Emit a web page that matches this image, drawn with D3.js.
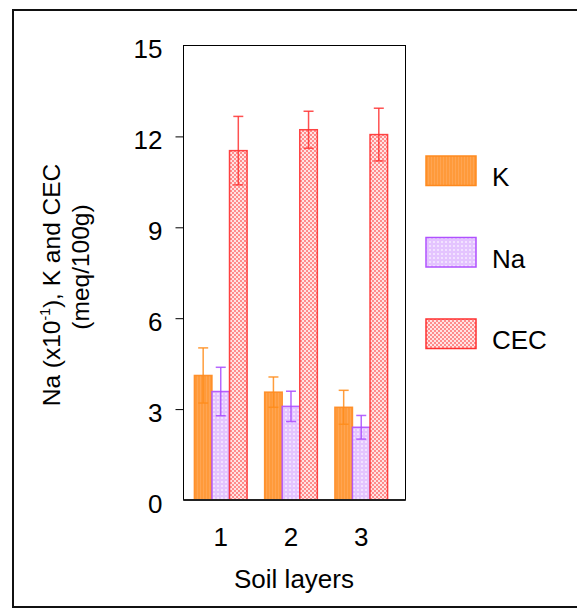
<!DOCTYPE html>
<html>
<head>
<meta charset="utf-8">
<script src="https://cdn.jsdelivr.net/npm/d3@7"></script>
<style>
  html, body { margin: 0; padding: 0; background: #fff; }
  svg { display: block; }
  text { font-family: "Liberation Sans", Arial, sans-serif; fill: #000; }
</style>
</head>
<body>
<svg id="chart" width="577" height="608"></svg>
<script>
// Soil layers and exchangeable cation data
const layers = ["1", "2", "3"];
const seriesNames = ["K", "Na", "CEC"];
const kValues = [4.11, 3.56, 3.06];
const kErrors = [0.91, 0.50, 0.56];
const naValues = [3.58, 3.09, 2.40];
const naErrors = [0.80, 0.50, 0.39];
const cecValues = [11.53, 12.22, 12.06];
const cecErrors = [1.13, 0.61, 0.87];
const yTicks = [0, 3, 6, 9, 12, 15];

const series = [
  { name: seriesNames[0], values: kValues,   errors: kErrors,   fill: "url(#patK)",   stroke: "#ff8a1f", err: "#ff8c1a" },
  { name: seriesNames[1], values: naValues,  errors: naErrors,  fill: "url(#patNa)",  stroke: "#b050ff", err: "#a94cff" },
  { name: seriesNames[2], values: cecValues, errors: cecErrors, fill: "url(#patCEC)", stroke: "#ff3030", err: "#ff3333" }
];

const svg = d3.select("#chart");

// Fill patterns
const defs = svg.append("defs");
const pK = defs.append("pattern").attr("id", "patK").attr("patternUnits", "userSpaceOnUse")
  .attr("width", 3).attr("height", 3);
pK.append("rect").attr("width", 3).attr("height", 3).attr("fill", "#ff9a3a");
pK.append("rect").attr("x", 2).attr("width", 1).attr("height", 3).attr("fill", "#ffa552");

const pNa = defs.append("pattern").attr("id", "patNa").attr("patternUnits", "userSpaceOnUse")
  .attr("width", 4).attr("height", 4);
pNa.append("rect").attr("width", 4).attr("height", 4).attr("fill", "#e4c4ff");
pNa.append("rect").attr("x", 1).attr("y", 1).attr("width", 2).attr("height", 2).attr("fill", "#f2e2ff");

const pC = defs.append("pattern").attr("id", "patCEC").attr("patternUnits", "userSpaceOnUse")
  .attr("width", 4).attr("height", 4);
pC.append("rect").attr("width", 4).attr("height", 4).attr("fill", "#ffe4e4");
pC.append("rect").attr("x", 0).attr("y", 0).attr("width", 2).attr("height", 2).attr("fill", "#ff8c8c");
pC.append("rect").attr("x", 2).attr("y", 2).attr("width", 2).attr("height", 2).attr("fill", "#ff8c8c");

// Outer frame
svg.append("rect")
  .attr("x", 13).attr("y", 10).attr("width", 600).attr("height", 597)
  .attr("fill", "none").attr("stroke", "#111").attr("stroke-width", 2);

// Plot geometry
const plot = { left: 183.5, right: 405.5, top: 45.5, bottom: 500 };

const y = d3.scaleLinear().domain([0, 15]).range([plot.bottom, plot.top]);
const x = d3.scaleLinear().domain([0.47, 3.63]).range([plot.left, plot.right]);
const barW = x(1.25) - x(1);

// Plot box
svg.append("rect")
  .attr("x", plot.left).attr("y", plot.top)
  .attr("width", plot.right - plot.left).attr("height", plot.bottom - plot.top)
  .attr("fill", "none").attr("stroke", "#000").attr("stroke-width", 1);

// Bars
series.forEach((s, si) => {
  const g = svg.append("g");
  g.selectAll("rect").data(layers).join("rect")
    .attr("x", (d, i) => x(i + 1) + (si - 1.5) * barW)
    .attr("y", (d, i) => y(s.values[i]))
    .attr("width", barW)
    .attr("height", (d, i) => y(0) - y(s.values[i]))
    .attr("fill", s.fill)
    .attr("stroke", s.stroke)
    .attr("stroke-width", 1.5)
    .attr("stroke-opacity", 0.9);
});

// Error bars
series.forEach((s, si) => {
  const g = svg.append("g").attr("stroke", s.err).attr("stroke-width", 1.5).attr("stroke-opacity", 0.85);
  layers.forEach((d, i) => {
    const cx = x(i + 1) + (si - 1) * barW;
    const hi = y(s.values[i] + s.errors[i]);
    const lo = y(s.values[i] - s.errors[i]);
    g.append("line").attr("x1", cx).attr("x2", cx).attr("y1", hi).attr("y2", lo);
    g.append("line").attr("x1", cx - 5).attr("x2", cx + 5).attr("y1", hi).attr("y2", hi);
    g.append("line").attr("x1", cx - 5).attr("x2", cx + 5).attr("y1", lo).attr("y2", lo);
  });
});

// Bottom axis line
svg.append("line")
  .attr("x1", plot.left).attr("x2", plot.right)
  .attr("y1", y(0)).attr("y2", y(0))
  .attr("stroke", "#222").attr("stroke-width", 2);

// Y axis
const yAxis = svg.append("g")
  .attr("transform", `translate(${plot.left},0)`)
  .call(d3.axisLeft(y).tickValues(yTicks).tickSize(8).tickPadding(13).tickFormat(d3.format("d")));
yAxis.select(".domain").remove();
yAxis.selectAll(".tick line").attr("stroke", "#000")
  .attr("display", d => (d === 0 || d === 15) ? "none" : null);
yAxis.selectAll(".tick text")
  .attr("font-size", 26).attr("dy", "0.47em")
  .style("font-family", "'Liberation Sans', Arial, sans-serif").attr("fill", "#000");

// X tick labels
svg.append("g").selectAll("text").data(layers).join("text")
  .attr("x", (d, i) => x(i + 1))
  .attr("y", 546)
  .attr("text-anchor", "middle")
  .attr("font-size", 26)
  .text(d => d);

// Axis titles
svg.append("text")
  .attr("x", 294).attr("y", 588)
  .attr("text-anchor", "middle").attr("font-size", 26)
  .text("Soil layers");

const t1 = svg.append("text")
  .attr("transform", "translate(60,285) rotate(-90)")
  .attr("text-anchor", "middle").attr("font-size", 24.5);
t1.append("tspan").text("Na (x10");
t1.append("tspan").attr("font-size", 14).attr("dy", -10).text("-1");
t1.append("tspan").attr("dy", 10).text("), K and CEC");

svg.append("text")
  .attr("transform", "translate(89,267) rotate(-90)")
  .attr("text-anchor", "middle").attr("font-size", 24.5)
  .text("(meq/100g)");

// Legend
const legend = svg.append("g");
series.forEach((s, i) => {
  const top = 156 + i * 81.5;
  legend.append("rect")
    .attr("x", 426).attr("y", top).attr("width", 50).attr("height", 29.5)
    .attr("fill", s.fill).attr("stroke", s.stroke).attr("stroke-width", 1.5);
  legend.append("text")
    .attr("x", 492).attr("y", top + 30)
    .attr("font-size", 26)
    .text(s.name);
});
</script>
</body>
</html>
